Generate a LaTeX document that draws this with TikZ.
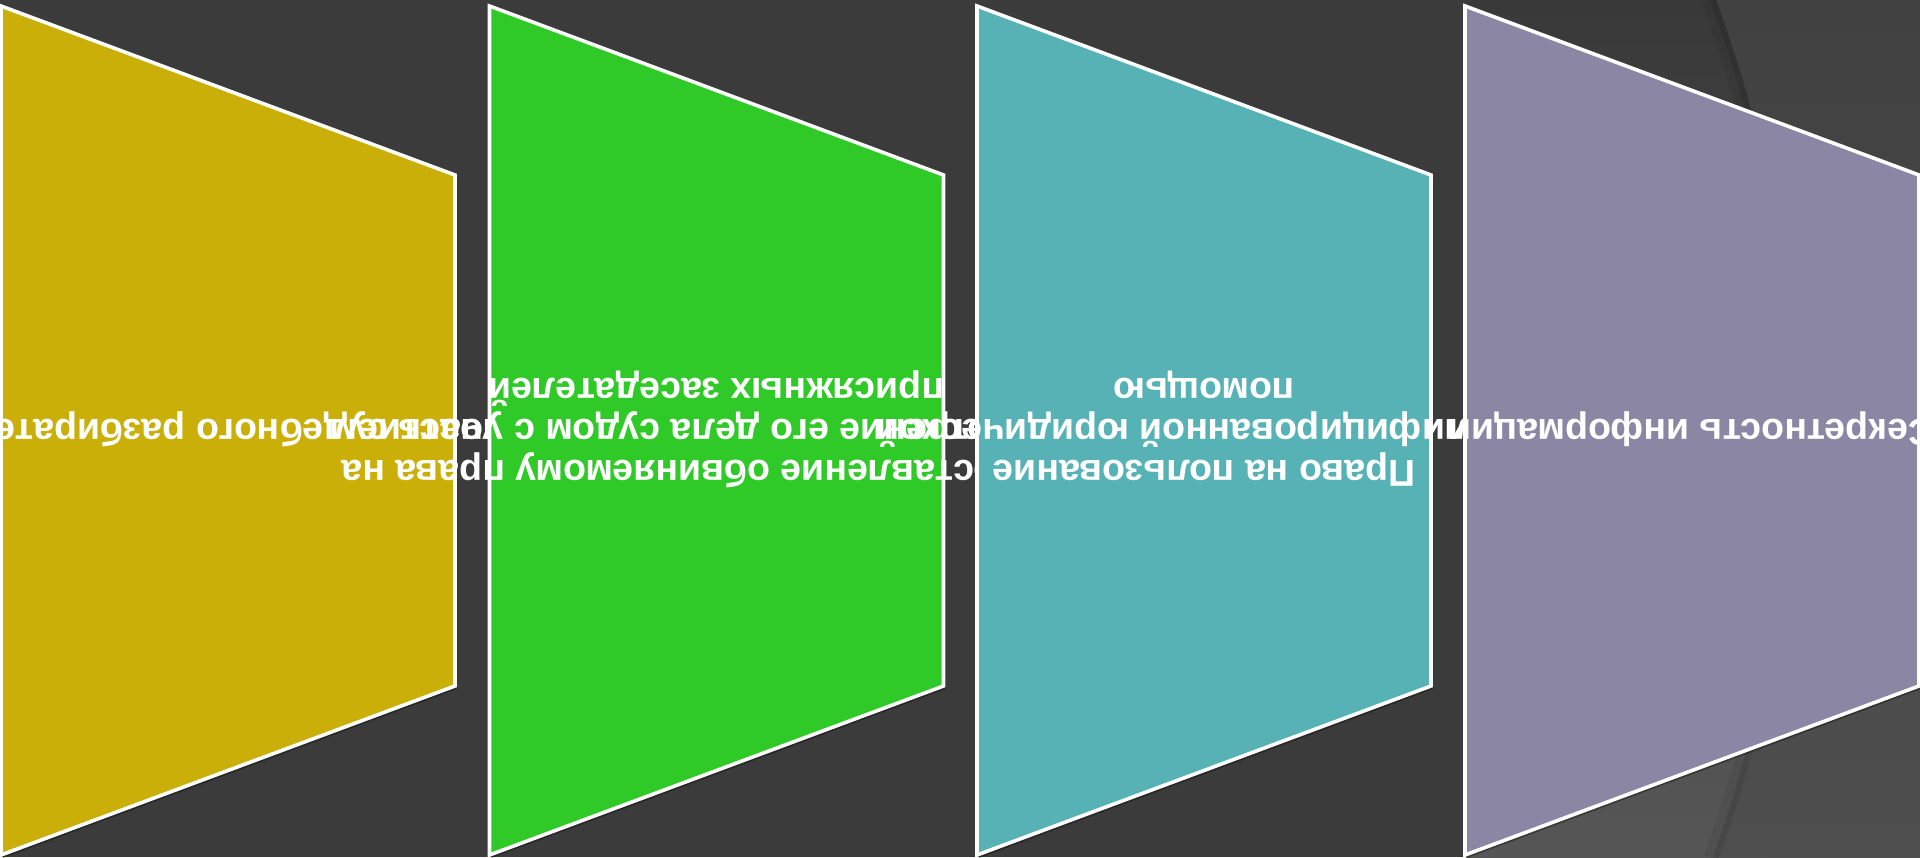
\documentclass[tikz,border=0pt]{standalone}
\usepackage{fontspec}
\setmainfont{Liberation Sans}
\definecolor{bgc}{HTML}{3B3B3B}
\definecolor{cyel}{HTML}{CBAF09}
\definecolor{cgrn}{HTML}{30CA28}
\definecolor{cteal}{HTML}{57B2B6}
\definecolor{cpur}{HTML}{8A86A3}
\newcommand\mytrap[2]{%
  \fill[black,opacity=0.35,shift={(2,-3)}] (#1,851) -- (#1+454,682) -- (#1+454,171) -- (#1,2) -- cycle;
  \draw[boxline,fill=#2] (#1,851) -- (#1+454,682) -- (#1+454,171) -- (#1,2) -- cycle;}
\begin{document}
\begin{tikzpicture}[x=0.5pt,y=0.5pt,
  boxline/.style={draw=white,line width=1.8pt,line join=miter},
  lbl/.style={text=white,font=\bfseries\fontsize{18.75pt}{20.5pt}\selectfont,align=center,rotate=180,inner sep=0pt}]
\useasboundingbox (0,0) rectangle (1920,857);
\clip (0,0) rectangle (1920,857);
% background
\fill[bgc] (0,0) rectangle (1920,857);
\shade[top color={rgb,255:red,57;green,57;blue,57}, bottom color={rgb,255:red,86;green,86;blue,86}] (1466,0) rectangle (1920,857);
\shade[top color={rgb,255:red,65;green,65;blue,65}, bottom color={rgb,255:red,78;green,78;blue,78}]
  (1716,857) arc[start angle=20.44, end angle=-20.08, radius=1238] -- (1920,0) -- (1920,857) -- cycle;
\draw[black,opacity=0.06,line width=7pt,shift={(-8,0)}] (1716,857) arc[start angle=20.44, end angle=-20.08, radius=1238];
\draw[black,opacity=0.10,line width=3pt,shift={(-3,0)}] (1716,857) arc[start angle=20.44, end angle=-20.08, radius=1238];
% boxes and texts
\mytrap{1}{cyel}
\node[lbl] (t1) at (228,428) {Гласность судебного разбирательства};
\mytrap{489.5}{cgrn}
\node[lbl] (t2) at (716.5,428) {Предоставление обвиняемому права на\\рассмотрение его дела судом с участием\\присяжных заседателей};
\mytrap{977}{cteal}
\node[lbl] (t3) at (1204,428) {Право на пользование\\квалифицированной юридической\\помощью};
\mytrap{1465}{cpur}
\node[lbl] (t4) at (1692,428) {Секретность информации};
\end{tikzpicture}
\end{document}
